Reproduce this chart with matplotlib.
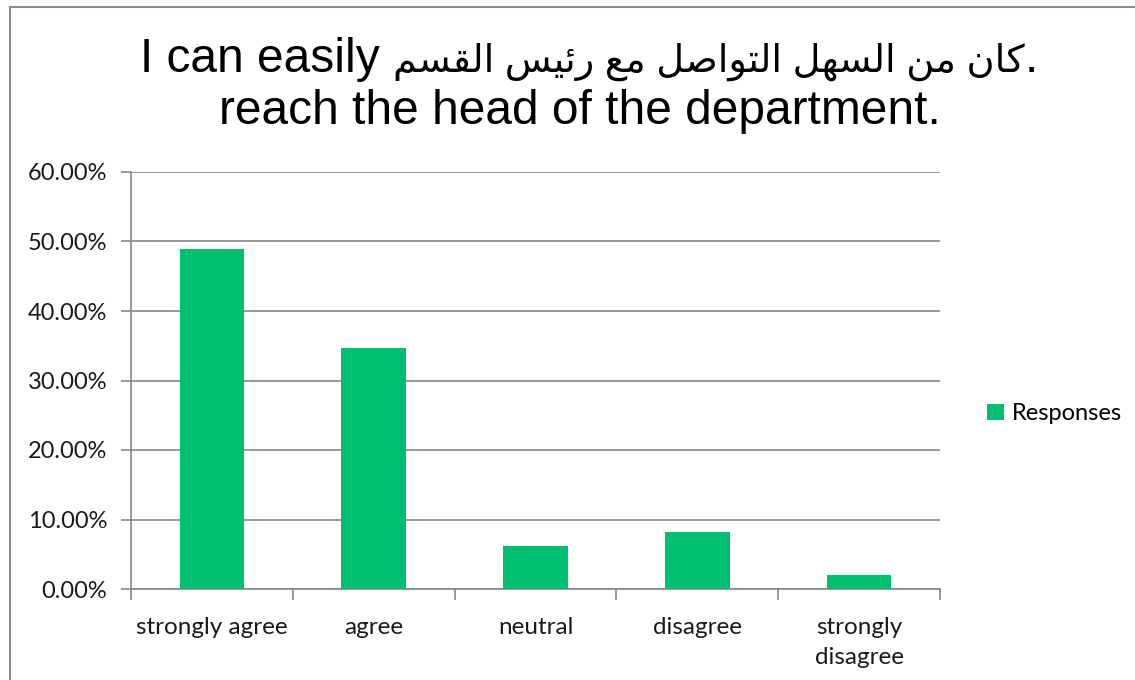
import matplotlib
matplotlib.use("Agg")
import matplotlib.pyplot as plt
from matplotlib.ticker import FuncFormatter, FixedLocator, MultipleLocator
from matplotlib.patches import Patch
from matplotlib.lines import Line2D

# ---- data ----
categories = ["strongly agree", "agree", "neutral", "disagree", "strongly\ndisagree"]
responses = [0.4898, 0.3469, 0.0612, 0.0816, 0.0204]
series_name = "Responses"

# Arabic part of title, pre-shaped (presentation forms) in visual left-to-right order
ar_words_visual = [
    "\uFEE2\uFEB4\uFED8\uFEDF\uFE8D",                    # القسم
    "\uFEB2\uFEF4\uFE8B\uFEAD",                          # رئيس
    "\uFECA\uFEE3",                                      # مع
    "\uFEDE\uFEBB\uFE8D\uFEEE\uFE98\uFEDF\uFE8D",        # التواصل
    "\uFEDE\uFEEC\uFEB4\uFEDF\uFE8D",                    # السهل
    "\uFEE6\uFEE3",                                      # من
    "\uFEE5\uFE8E\uFEDB",                                # كان
]
title_l1_left = "I can easily "
title_l1_arabic = " ".join(ar_words_visual)
title_l1_right = "."
title_line2 = "reach the head of the department."

BAR = "#00BF6F"
GRID = "#878787"
LABEL_FONT = ["Lato", "DejaVu Sans"]
TITLE_FONT = ["Liberation Sans", "DejaVu Sans"]

W, H = 1135, 680
fig = plt.figure(figsize=(W / 100, H / 100), dpi=100)
fig.patch.set_facecolor("white")

# chart outer frame (left and top edges visible)
fig.add_artist(Line2D([10 / W, 10 / W], [0, 1 - 7 / H], transform=fig.transFigure,
                      color="#8c8c8c", lw=1.5))
fig.add_artist(Line2D([10 / W, 1], [1 - 7 / H, 1 - 7 / H], transform=fig.transFigure,
                      color="#8c8c8c", lw=1.5))

ax_l, ax_r, ax_t, ax_b = 131, 940, 172, 589
ax = fig.add_axes([ax_l / W, 1 - ax_b / H, (ax_r - ax_l) / W, (ax_b - ax_t) / H])

x = list(range(len(categories)))
ax.bar(x, responses, width=0.40, color=BAR, zorder=3, label=series_name)

ax.set_xlim(-0.5, len(categories) - 0.5)
ax.set_ylim(0, 0.60)
ax.yaxis.set_major_locator(MultipleLocator(0.10))
ax.yaxis.set_major_formatter(FuncFormatter(lambda v, p: f"{v * 100:.2f}%"))
ax.grid(axis="y", color=GRID, lw=1.2, zorder=0)

for s in ["top", "right"]:
    ax.spines[s].set_visible(False)
for s in ["left", "bottom"]:
    ax.spines[s].set_color(GRID)
    ax.spines[s].set_linewidth(1.2)

ax.set_xticks(x)
ax.set_xticklabels(categories, fontsize=17.5, family=LABEL_FONT, color="#1a1a1a",
                   linespacing=1.55)
ax.tick_params(axis="x", which="major", length=0, pad=20)
ax.xaxis.set_minor_locator(FixedLocator([i - 0.5 for i in range(len(categories) + 1)]))
ax.tick_params(axis="x", which="minor", length=8, color=GRID, width=1.2)
ax.tick_params(axis="y", length=7, color=GRID, width=1.2, pad=10)
for lbl in ax.get_yticklabels():
    lbl.set_fontsize(17)
    lbl.set_family(LABEL_FONT)
    lbl.set_color("#1a1a1a")

# title line 1: mixed Latin / Arabic pieces laid out side by side, centred
fig.canvas.draw()
renderer = fig.canvas.get_renderer()
pieces = [
    (title_l1_left, 34.5),
    (title_l1_arabic, 27.5),
    (title_l1_right, 34.5),
]
texts = []
for s, fs in pieces:
    t = fig.text(0, 1 - 72 / H, s, ha="left", va="baseline", fontsize=fs,
                 family=TITLE_FONT, color="black")
    texts.append(t)
widths = [t.get_window_extent(renderer).width for t in texts]
total = sum(widths)
cx = 589
start = cx - total / 2
for t, w in zip(texts, widths):
    t.set_x(start / W)
    start += w

fig.text(580 / W, 1 - 124 / H, title_line2, ha="center", va="baseline",
         fontsize=34.5, family=TITLE_FONT, color="black")

# legend
fig.legend(handles=[Patch(facecolor=BAR, edgecolor="none", label=series_name)],
           loc="center left", bbox_to_anchor=(966 / W, 1 - 414 / H), frameon=False,
           handlelength=0.7, handleheight=0.7, handletextpad=0.35,
           prop={"family": LABEL_FONT, "size": 17})

fig.savefig("out.png", dpi=100, facecolor="white")
